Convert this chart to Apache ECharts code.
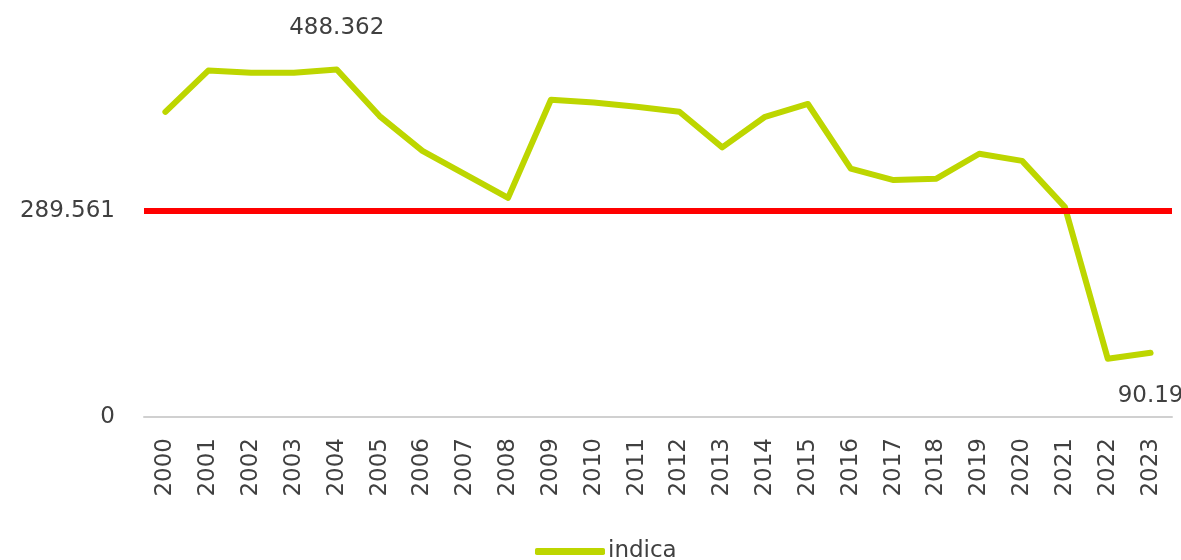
<!DOCTYPE html>
<html>
<head>
<meta charset="utf-8">
<script src="https://cdn.jsdelivr.net/npm/echarts@6/dist/echarts.min.js"></script>
<style>
  html, body { margin: 0; padding: 0; background: #fff; }
  #chart { width: 1181px; height: 560px; }
</style>
</head>
<body>
<div id="chart"></div>
<script>
const years = ['2000', '2001', '2002', '2003', '2004', '2005', '2006', '2007', '2008', '2009', '2010', '2011',
  '2012', '2013', '2014', '2015', '2016', '2017', '2018', '2019', '2020', '2021', '2022', '2023']
const indica = [429, 487, 484, 484, 488.362, 423, 374, 341, 308, 446, 442, 436,
  429, 379, 422, 440, 349, 333, 335, 370, 360, 295, 82, 90.19]
const threshold = 289.561
// points that carry a data label, and where the label sits
const labelledYears = ['2004', '2023']
const labelSides = ['top', 'bottom']

const seriesData = indica.map((v, i) => {
  const k = labelledYears.indexOf(years[i])
  if (k < 0) return v
  return {
    value: v,
    label: { show: true, position: labelSides[k], distance: labelSides[k] === 'top' ? 30 : 32 }
  }
})

const txt = { fontFamily: 'DejaVu Sans', fontSize: 23, color: '#404040' }

const chart = echarts.init(document.getElementById('chart'))
chart.setOption({
  animation: false,
  grid: { left: 144, right: 9, top: 5, bottom: 143 },
  legend: {
    data: ['indica'],
    left: 530,
    top: 535,
    icon: 'roundRect',
    itemWidth: 70,
    itemHeight: 7,
    itemGap: 10,
    textStyle: { ...txt, padding: [0, 0, 0, -2] }
  },
  xAxis: {
    type: 'category',
    data: years,
    boundaryGap: true,
    axisLine: { lineStyle: { color: '#d0d0d0', width: 2 } },
    axisTick: { show: false },
    axisLabel: { ...txt, rotate: 90, margin: 21, interval: 0 }
  },
  yAxis: {
    type: 'value',
    min: 0,
    max: threshold * 2,
    interval: threshold,
    splitLine: { show: false },
    axisLine: { show: false },
    axisTick: { show: false },
    axisLabel: {
      ...txt,
      margin: 29,
      formatter: v => (v === 0 ? '0' : v < threshold * 1.5 ? String(threshold) : '')
    }
  },
  series: [{
    name: 'indica',
    type: 'line',
    data: seriesData,
    symbol: 'circle',
    symbolSize: 0,
    showSymbol: true,
    itemStyle: { color: '#bdd600' },
    lineStyle: { color: '#bdd600', width: 6, join: 'round', cap: 'round' },
    label: { show: false, ...txt },
    markLine: {
      silent: true,
      symbol: 'none',
      label: { show: false },
      lineStyle: { color: '#ff0000', width: 6, type: 'solid' },
      data: [{ yAxis: threshold }]
    },
    z: 3
  }]
})
</script>
</body>
</html>
